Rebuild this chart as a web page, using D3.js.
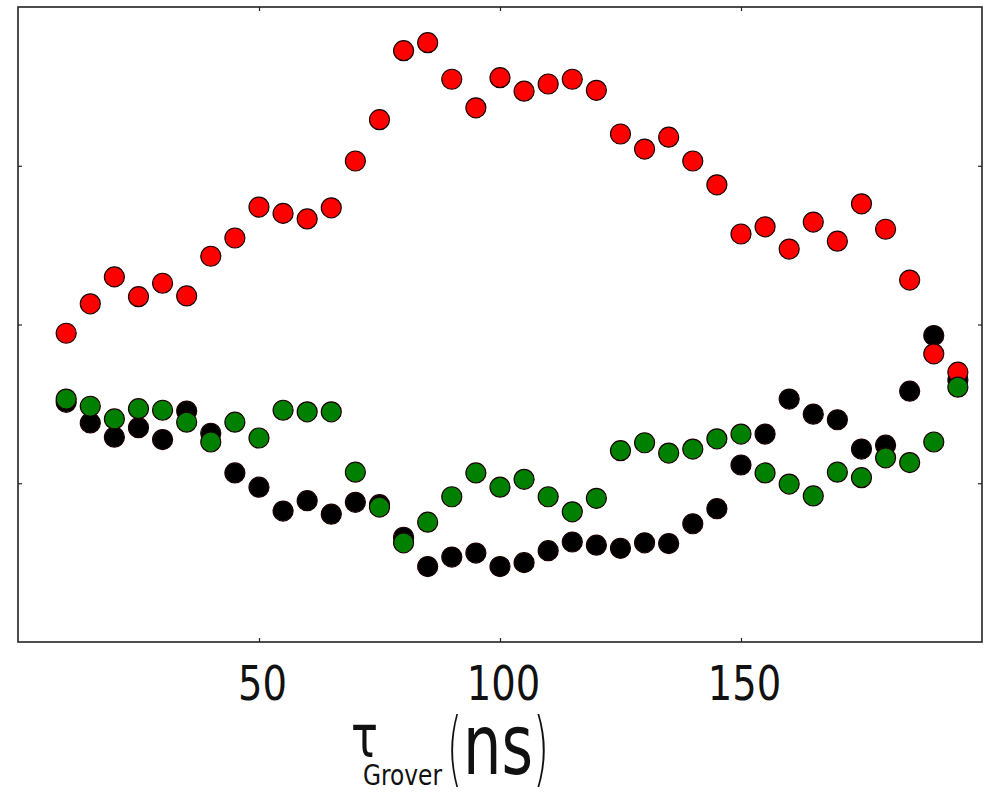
<!DOCTYPE html>
<html><head><meta charset="utf-8">
<script src="https://cdn.jsdelivr.net/npm/d3@7/dist/d3.min.js"></script>
<style>body{margin:0;background:#fff} svg{display:block}</style>
</head><body><svg id="c" width="991" height="792"></svg>
<script>
const tau = [10,15,20,25,30,35,40,45,50,55,60,65,70,75,80,85,90,95,100,105,110,115,120,125,130,135,140,145,150,155,160,165,170,175,180,185,190,195];
const redVals = [0.589,0.626,0.660,0.635,0.652,0.636,0.686,0.709,0.748,0.740,0.733,0.747,0.806,0.858,0.945,0.955,0.909,0.873,0.911,0.894,0.903,0.909,0.895,0.840,0.821,0.836,0.806,0.776,0.714,0.723,0.695,0.729,0.705,0.752,0.720,0.656,0.563,0.540];
const blackVals = [0.502,0.476,0.458,0.470,0.455,0.491,0.463,0.413,0.395,0.365,0.378,0.361,0.376,0.373,0.332,0.295,0.307,0.312,0.295,0.300,0.315,0.326,0.322,0.318,0.325,0.324,0.349,0.368,0.423,0.462,0.506,0.487,0.480,0.443,0.448,0.516,0.586,0.530];
const greenVals = [0.506,0.497,0.481,0.494,0.492,0.477,0.452,0.477,0.457,0.492,0.490,0.490,0.414,0.370,0.325,0.351,0.383,0.413,0.395,0.405,0.383,0.364,0.381,0.441,0.451,0.438,0.443,0.456,0.462,0.413,0.399,0.384,0.414,0.407,0.432,0.426,0.452,0.521];
const xTicks = [50,100,150];
const xTickLabels = ["50","100","150"];
const yTicks = [0.4,0.6,0.8];

const svg = d3.select('#c');
const L=18,R=982,T=7,B=642;
const x = d3.scaleLinear().domain([0,200]).range([L,R]);
const y = d3.scaleLinear().domain([0.2,1.0]).range([B,T]);

const gB = svg.append('g').attr('transform',`translate(0,${B})`)
  .call(d3.axisBottom(x).tickValues(xTicks).tickSize(-4).tickFormat((d,i)=>xTickLabels[i]));
gB.selectAll('text').attr('y',58).attr('dy',null).attr('dx',3)
  .style('font-family','"DejaVu Sans", sans-serif').style('font-size','48px').attr('fill','#111')
  .attr('textLength',d=>String(d).length*24.5).attr('lengthAdjust','spacingAndGlyphs');
const gT = svg.append('g').attr('transform',`translate(0,${T})`)
  .call(d3.axisTop(x).tickValues(xTicks).tickSize(-4).tickFormat(''));
const gL = svg.append('g').attr('transform',`translate(${L},0)`)
  .call(d3.axisLeft(y).tickValues(yTicks).tickSize(-4).tickFormat(''));
const gR = svg.append('g').attr('transform',`translate(${R},0)`)
  .call(d3.axisRight(y).tickValues(yTicks).tickSize(-4).tickFormat(''));
[gB,gT,gL,gR].forEach(g=>{g.select('.domain').remove(); g.selectAll('line').attr('stroke','#222').attr('stroke-width',1.2);});

svg.append('rect').attr('x',L).attr('y',T).attr('width',R-L).attr('height',B-T)
  .attr('fill','none').attr('stroke','#222').attr('stroke-width',1.6);

function drawSeries(vals, fill){
  svg.append('g').selectAll('circle').data(vals).join('circle')
    .attr('cx',(d,i)=>x(tau[i])).attr('cy',d=>y(d)).attr('r',10)
    .attr('fill',fill).attr('stroke','#1a0000').attr('stroke-width',1.2);
}
drawSeries(blackVals,'#000000');
drawSeries(redVals,'#ff0000');
drawSeries(greenVals,'#008000');

// axis label as a single text element
const lab = svg.append('text').style('font-family','"DejaVu Sans", sans-serif').attr('fill','#111');
lab.append('tspan').attr('x',351).attr('y',757).style('font-size','58px').text('τ')
  .attr('textLength',27).attr('lengthAdjust','spacingAndGlyphs');
lab.append('tspan').attr('x',363).attr('y',785).style('font-size','29px').text('Grover')
  .attr('textLength',79).attr('lengthAdjust','spacingAndGlyphs');
lab.append('tspan').attr('x',447).attr('y',776).style('font-size','82px').style('font-weight','200').text('(')
  .attr('textLength',15).attr('lengthAdjust','spacingAndGlyphs');
lab.append('tspan').attr('x',463).attr('y',774).style('font-size','84px').text('ns')
  .attr('textLength',70).attr('lengthAdjust','spacingAndGlyphs');
lab.append('tspan').attr('x',533).attr('y',776).style('font-size','82px').style('font-weight','200').text(')')
  .attr('textLength',16).attr('lengthAdjust','spacingAndGlyphs');
</script></body></html>
